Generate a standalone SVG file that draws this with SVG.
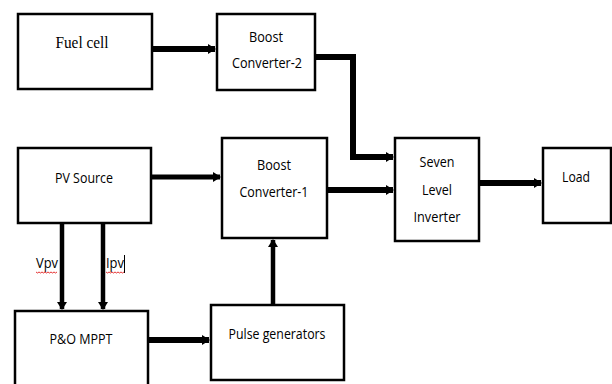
<svg xmlns="http://www.w3.org/2000/svg" width="612" height="384" viewBox="0 0 612 384">
<style>
.box{fill:#fff;stroke:#000;stroke-width:2.5}
.t{font-family:"Open Sans","Liberation Sans",sans-serif;font-size:15px;fill:#000;text-anchor:middle}
.ts{font-family:"Liberation Serif",serif;font-size:17px;fill:#000;text-anchor:middle}
.c{fill:none;stroke:#000;stroke-linecap:butt;stroke-linejoin:miter}
.sq{fill:none;stroke:#d00;stroke-width:0.8}
</style>
<defs>
<marker id="ah" markerUnits="userSpaceOnUse" viewBox="0 0 8 10" refX="7" refY="5" markerWidth="8" markerHeight="10" orient="auto">
<path d="M0,0 L8,5 L0,10 Z" fill="#000"/>
</marker>
</defs>
<rect width="612" height="384" fill="#fff"/>
<g id="connectors">
<line class="c" x1="152" y1="49" x2="215" y2="49" stroke-width="6" marker-end="url(#ah)"/>
<polyline class="c" points="315,57 353,57 353,157 393,157" stroke-width="6" marker-end="url(#ah)"/>
<line class="c" x1="151" y1="177" x2="220" y2="177" stroke-width="5" marker-end="url(#ah)"/>
<line class="c" x1="327" y1="190" x2="393" y2="190" stroke-width="6" marker-end="url(#ah)"/>
<line class="c" x1="479" y1="183" x2="541" y2="183" stroke-width="6" marker-end="url(#ah)"/>
<line class="c" x1="62" y1="223" x2="62" y2="309" stroke-width="4.5" marker-end="url(#ah)"/>
<line class="c" x1="103" y1="223" x2="103" y2="309" stroke-width="4.5" marker-end="url(#ah)"/>
<line class="c" x1="148" y1="340" x2="209" y2="340" stroke-width="6" marker-end="url(#ah)"/>
<line class="c" x1="273" y1="305" x2="273" y2="240" stroke-width="4.5" marker-end="url(#ah)"/>
</g>
<g id="fuel-cell"><rect class="box" x="18" y="14" width="134" height="75"/><text class="ts" x="82" y="48" textLength="53" lengthAdjust="spacingAndGlyphs">Fuel cell</text></g>
<g id="boost-converter-2"><rect class="box" x="217" y="14" width="98" height="76"/><text class="t" x="266" y="42" textLength="34" lengthAdjust="spacingAndGlyphs">Boost</text><text class="t" x="267" y="68" textLength="70" lengthAdjust="spacingAndGlyphs">Converter-2</text></g>
<g id="pv-source"><rect class="box" x="18" y="148" width="133" height="75"/><text class="t" x="84" y="183" textLength="58" lengthAdjust="spacingAndGlyphs">PV Source</text></g>
<g id="boost-converter-1"><rect class="box" x="222" y="138" width="105" height="100"/><text class="t" x="274" y="170" textLength="34" lengthAdjust="spacingAndGlyphs">Boost</text><text class="t" x="274" y="197" textLength="69" lengthAdjust="spacingAndGlyphs">Converter-1</text></g>
<g id="seven-level-inverter"><rect class="box" x="395" y="138" width="84" height="103"/><text class="t" x="437" y="167" textLength="35" lengthAdjust="spacingAndGlyphs">Seven</text><text class="t" x="437" y="195" textLength="30" lengthAdjust="spacingAndGlyphs">Level</text><text class="t" x="437" y="222" textLength="47" lengthAdjust="spacingAndGlyphs">Inverter</text></g>
<g id="load"><rect class="box" x="543" y="148" width="68" height="75"/><text class="t" x="576" y="182" textLength="28" lengthAdjust="spacingAndGlyphs">Load</text></g>
<g id="po-mppt"><rect class="box" x="15" y="311" width="133" height="80"/><text class="t" x="81" y="344" textLength="63" lengthAdjust="spacingAndGlyphs">P&amp;O MPPT</text></g>
<g id="pulse-generators"><rect class="box" x="211" y="305" width="133" height="75"/><text class="t" x="277" y="339" textLength="97" lengthAdjust="spacingAndGlyphs">Pulse generators</text></g>
<g id="labels">
<text class="t" x="47" y="268" textLength="22" lengthAdjust="spacingAndGlyphs">Vpv</text>
<text class="t" x="115" y="268" textLength="18" lengthAdjust="spacingAndGlyphs">Ipv</text>
<path class="sq" d="M36,272 l1.5,1 l1.5,-1 l1.5,1 l1.5,-1 l1.5,1 l1.5,-1 l1.5,1 l1.5,-1 l1.5,1 l1.5,-1 l1.5,1 l1.5,-1 l1.5,1 l1.5,-1"/>
<path class="sq" d="M106,272 l1.5,1 l1.5,-1 l1.5,1 l1.5,-1 l1.5,1 l1.5,-1 l1.5,1 l1.5,-1 l1.5,1 l1.5,-1 l1.5,1 l1.5,-1"/>
<line x1="124.5" y1="255" x2="124.5" y2="273" stroke="#000" stroke-width="1"/>
</g>
</svg>
